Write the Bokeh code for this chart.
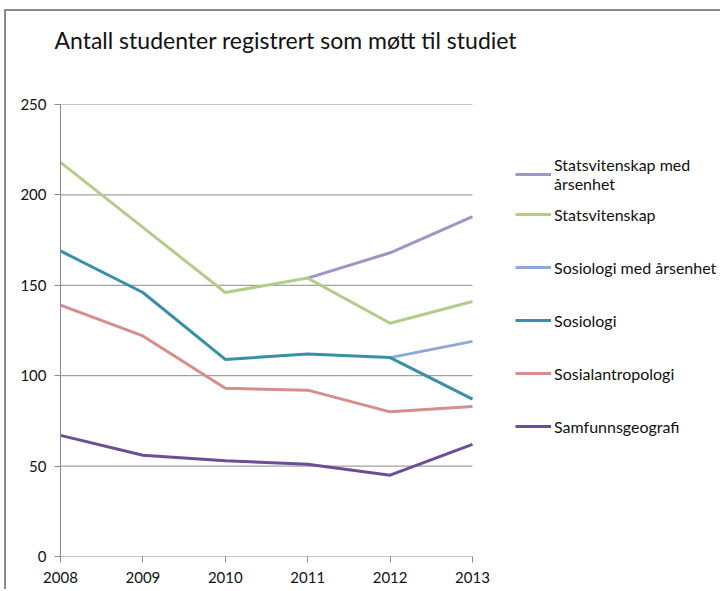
from bokeh.plotting import figure
from bokeh.models import Range1d, FixedTicker, Legend, LegendItem, Title
from bokeh.embed import file_html
from bokeh.resources import INLINE

NaN = float("nan")
years = [2008, 2009, 2010, 2011, 2012, 2013]
statsvit_aars = [NaN, NaN, NaN, 154, 168, 188]
statsvit = [218, 182, 146, 154, 129, 141]
sosiologi_aars = [NaN, NaN, NaN, NaN, 110, 119]
sosiologi = [169, 146, 109, 112, 110, 87]
sosialantro = [139, 122, 93, 92, 80, 83]
samfunnsgeo = [67, 56, 53, 51, 45, 62]

labels = ["Statsvitenskap med\nårsenhet", "Statsvitenskap", "Sosiologi med årsenhet",
          "Sosiologi", "Sosialantropologi", "Samfunnsgeografi"]
series = [statsvit_aars, statsvit, sosiologi_aars, sosiologi, sosialantro, samfunnsgeo]
colors = ["#A294C4", "#B4CC8A", "#8EA9D8", "#3890A8", "#D68D8B", "#6B4E96"]
y_ticks = [0, 50, 100, 150, 200, 250]
title_text = "Antall studenter registrert som møtt til studiet"

FONT = "Lato"
TXT = "#111111"
GRID = "#8a8a8a"

W, H = 720, 589
LEFT, TOP, BOTTOM = 60, 104, 33
PLOT_RIGHT = 472  # pixel where the last year sits
px_per_year = (PLOT_RIGHT - LEFT) / (years[-1] - years[0])
x_end = years[-1] + (W - PLOT_RIGHT) / px_per_year

p = figure(width=W, height=H, output_backend="svg", toolbar_location=None,
           x_range=Range1d(years[0], x_end), y_range=Range1d(0, 250),
           min_border_left=LEFT, min_border_right=0, min_border_top=TOP,
           min_border_bottom=BOTTOM)
p.styles = {"box-shadow": "inset 4px 9px 0 0 white, inset 6px 11px 0 0 #8c8c8c"}

# built-in title left empty (takes no space)
p.title.text = ""
# spacer (innermost) between the frame and the title
p.add_layout(Title(text=" ", text_font_size="1px", standoff=43), "above")
# real title, stacked outside the spacer
p.add_layout(Title(text=title_text, text_font=FONT, text_font_size="23px",
                   text_font_style="normal", text_color=TXT, offset=-6, standoff=10),
             "above")

p.outline_line_color = None
p.background_fill_color = "white"
p.border_fill_alpha = 0

p.xaxis.ticker = FixedTicker(ticks=years)
p.yaxis.ticker = FixedTicker(ticks=y_ticks)
for ax in (p.xaxis, p.yaxis):
    ax.axis_line_color = GRID
    ax.major_tick_line_color = GRID
    ax.major_tick_in = 0
    ax.major_tick_out = 6
    ax.minor_tick_line_color = None
    ax.major_label_text_font = FONT
    ax.major_label_text_font_size = "15px"
    ax.major_label_text_color = TXT
p.xaxis.axis_line_color = None
p.yaxis.major_label_standoff = 8
p.xaxis.major_label_standoff = 9

p.xgrid.grid_line_color = None
p.ygrid.grid_line_color = None
# horizontal gridlines spanning only the year range
p.segment(x0=[years[0]] * len(y_ticks), x1=[years[-1]] * len(y_ticks),
          y0=y_ticks, y1=y_ticks, line_color=GRID, line_width=1)

draw_order = [2, 0, 5, 4, 3, 1]
rends = {}
for i in draw_order:
    rends[i] = p.line(years, series[i], line_color=colors[i], line_width=3)

common = dict(background_fill_alpha=0, border_line_color=None, label_text_font=FONT,
              label_text_font_size="16px", label_text_color=TXT, glyph_width=36,
              glyph_height=20, label_standoff=3, padding=0, margin=0)
leg1 = Legend(items=[LegendItem(label=labels[0], renderers=[rends[0]])],
              location=(455, 363), label_text_line_height=1.35, **common)
leg2 = Legend(items=[LegendItem(label=labels[i], renderers=[rends[i]]) for i in range(1, 6)],
              location=(455, 120), spacing=33, **common)
p.add_layout(leg1, "center")
p.add_layout(leg2, "center")

open("out.html", "w").write(file_html(p, INLINE))
